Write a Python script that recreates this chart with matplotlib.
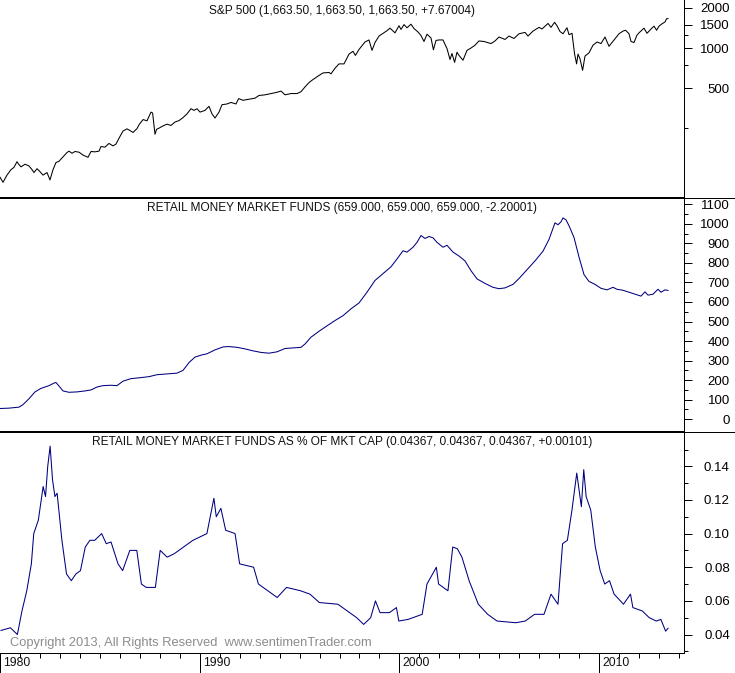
import numpy as np
import matplotlib
matplotlib.use("Agg")
import matplotlib.pyplot as plt
from matplotlib.lines import Line2D
from matplotlib.ticker import FixedLocator, NullFormatter, FuncFormatter

plt.rcParams['font.family'] = ['Liberation Sans', 'DejaVu Sans']

# S&P 500 (log scale panel)
sp_years = [1980.05, 1980.2, 1980.4, 1980.6, 1980.75, 1980.9, 1981.0, 1981.1, 1981.3, 1981.5,
            1981.65, 1981.75, 1981.9, 1982.0, 1982.2, 1982.4, 1982.55, 1982.7, 1982.85, 1983.0,
            1983.2, 1983.4, 1983.5, 1983.65, 1983.8, 1984.0, 1984.2, 1984.45, 1984.6, 1984.8,
            1985.0, 1985.1, 1985.3, 1985.5, 1985.7, 1985.85, 1986.0, 1986.2, 1986.4, 1986.55,
            1986.7, 1986.9, 1987.0, 1987.2, 1987.4, 1987.6, 1987.68, 1987.8, 1987.88, 1988.0,
            1988.2, 1988.4, 1988.6, 1988.8, 1989.0, 1989.2, 1989.4, 1989.6, 1989.75, 1989.9,
            1990.05, 1990.3, 1990.5, 1990.65, 1990.8, 1991.0, 1991.15, 1991.4, 1991.6, 1991.85,
            1991.98, 1992.2, 1992.4, 1992.6, 1992.8, 1993.0, 1993.3, 1993.6, 1993.9, 1994.1,
            1994.3, 1994.6, 1994.9, 1995.1, 1995.3, 1995.5, 1995.7, 1995.95, 1996.2, 1996.5,
            1996.6, 1996.8, 1997.0, 1997.25, 1997.5, 1997.7, 1997.82, 1998.0, 1998.3, 1998.5,
            1998.65, 1998.8, 1999.0, 1999.2, 1999.4, 1999.55, 1999.8, 2000.0, 2000.1, 2000.25,
            2000.4, 2000.6, 2000.75, 2000.95, 2001.1, 2001.25, 2001.4, 2001.6, 2001.72, 2001.85,
            2002.0, 2002.2, 2002.4, 2002.55, 2002.65, 2002.78, 2002.9, 2003.0, 2003.2, 2003.4,
            2003.6, 2003.8, 2004.0, 2004.25, 2004.6, 2004.8, 2005.0, 2005.3, 2005.5, 2005.75,
            2006.0, 2006.3, 2006.45, 2006.7, 2007.0, 2007.15, 2007.45, 2007.6, 2007.78, 2007.9,
            2008.05, 2008.2, 2008.4, 2008.5, 2008.65, 2008.78, 2008.88, 2008.95, 2009.05, 2009.18,
            2009.3, 2009.5, 2009.7, 2009.9, 2010.1, 2010.3, 2010.5, 2010.65, 2010.85, 2011.0,
            2011.2, 2011.33, 2011.5, 2011.6, 2011.75, 2011.9, 2012.0, 2012.25, 2012.4, 2012.6,
            2012.75, 2012.88, 2013.0, 2013.15, 2013.3, 2013.38, 2013.45]
sp_vals = [107, 98, 111, 122, 127, 140, 133, 128, 134, 130,
           122, 116, 124, 120, 111, 116, 102, 122, 138, 141,
           152, 164, 168, 162, 167, 165, 157, 151, 167, 166,
           168, 182, 180, 192, 184, 190, 210, 238, 247, 240,
           232, 248, 265, 290, 284, 330, 325, 225, 245, 250,
           260, 268, 262, 278, 285, 300, 320, 350, 340, 350,
           330, 340, 365, 320, 298, 330, 375, 380, 390, 380,
           417, 405, 410, 415, 420, 440, 445, 455, 465, 475,
           445, 455, 455, 470, 510, 550, 580, 615, 650, 655,
           640, 705, 760, 760, 900, 945, 880, 975, 1110, 1150,
           960, 1100, 1230, 1290, 1350, 1410, 1300, 1470, 1380, 1500,
           1420, 1510, 1400, 1320, 1240, 1120, 1270, 1190, 970, 1140,
           1150, 1150, 990, 820, 910, 780, 930, 880, 810, 960,
           1000, 1050, 1130, 1120, 1080, 1130, 1210, 1160, 1230, 1180,
           1280, 1310, 1230, 1340, 1430, 1390, 1530, 1430, 1560, 1470,
           1330, 1280, 1420, 1260, 1290, 900, 760, 900, 830, 680,
           870, 920, 1050, 1110, 1080, 1210, 1030, 1100, 1200, 1280,
           1340, 1360, 1280, 1120, 1100, 1250, 1300, 1410, 1290, 1390,
           1460, 1360, 1460, 1520, 1570, 1660, 1663.5]

# Retail money market funds ($bn)
mmf_years = [1980.05, 1980.5, 1981.0, 1981.2, 1981.5, 1981.8, 1982.1, 1982.5, 1982.75, 1982.85,
             1983.0, 1983.2, 1983.5, 1983.9, 1984.3, 1984.6, 1984.9, 1985.2, 1985.6, 1985.9,
             1986.2, 1986.6, 1987.0, 1987.5, 1987.9, 1988.4, 1988.9, 1989.2, 1989.5, 1989.8,
             1990.1, 1990.4, 1990.8, 1991.2, 1991.5, 1991.9, 1992.3, 1992.7, 1993.1, 1993.5,
             1993.9, 1994.3, 1994.7, 1995.1, 1995.3, 1995.6, 1996.0, 1996.4, 1996.8, 1997.2,
             1997.6, 1998.0, 1998.4, 1998.8, 1999.2, 1999.6, 1999.9, 2000.2, 2000.4, 2000.7,
             2000.9, 2001.1, 2001.3, 2001.5, 2001.7, 2001.9, 2002.2, 2002.4, 2002.7, 2003.0,
             2003.3, 2003.6, 2003.9, 2004.3, 2004.7, 2005.0, 2005.3, 2005.7, 2006.0, 2006.4,
             2006.8, 2007.2, 2007.5, 2007.8, 2007.95, 2008.1, 2008.2, 2008.35, 2008.5, 2008.75,
             2009.0, 2009.25, 2009.5, 2009.8, 2010.1, 2010.4, 2010.7, 2010.9, 2011.2, 2011.5,
             2011.8, 2012.1, 2012.3, 2012.45, 2012.7, 2012.95, 2013.1, 2013.3, 2013.45]
mmf_vals = [55, 57, 62, 75, 105, 140, 158, 172, 185, 188,
            170, 145, 138, 140, 145, 150, 165, 172, 174, 172,
            195, 208, 212, 218, 228, 232, 236, 250, 290, 318,
            328, 335, 355, 370, 372, 368, 360, 350, 342, 338,
            345, 362, 365, 368, 385, 420, 450, 478, 505, 530,
            565, 595, 650, 710, 745, 780, 820, 862, 855, 880,
            905, 940, 925, 935, 928, 905, 880, 890, 855, 835,
            810, 760, 718, 695, 675, 668, 672, 690, 720, 765,
            810, 860, 920, 1005, 995, 1010, 1030, 1020, 990, 930,
            830, 740, 705, 690, 670, 662, 675, 665, 660, 650,
            640, 630, 652, 635, 640, 665, 650, 662, 659]

# Retail money market funds as % of market cap
pct_years = [1980.05, 1980.52, 1980.87, 1981.1, 1981.34, 1981.57, 1981.69, 1981.92, 1982.16, 1982.28,
             1982.39, 1982.51, 1982.63, 1982.75, 1982.86, 1982.98, 1983.1, 1983.33, 1983.57, 1983.8,
             1984.03, 1984.27, 1984.5, 1984.74, 1985.09, 1985.32, 1985.56, 1985.91, 1986.14, 1986.5,
             1986.85, 1987.08, 1987.32, 1987.78, 1988.02, 1988.37, 1988.72, 1989.19, 1989.66, 1990.36,
             1990.71, 1990.83, 1991.06, 1991.3, 1991.77, 1992.0, 1992.7, 1992.94, 1993.41, 1993.88,
             1994.35, 1995.05, 1995.52, 1995.99, 1996.92, 1997.39, 1997.86, 1998.21, 1998.56, 1998.8,
             1999.03, 1999.5, 1999.85, 1999.97, 2000.44, 2001.14, 2001.38, 2001.85, 2001.96, 2002.43,
             2002.67, 2002.9, 2003.13, 2003.49, 2003.95, 2004.42, 2004.89, 2005.83, 2006.3, 2006.77,
             2007.24, 2007.59, 2007.94, 2008.17, 2008.41, 2008.64, 2008.88, 2009.11, 2009.23, 2009.35,
             2009.58, 2009.81, 2010.05, 2010.28, 2010.52, 2010.75, 2011.22, 2011.57, 2011.69, 2012.16,
             2012.51, 2012.86, 2013.09, 2013.33, 2013.45]
pct_vals = [0.0424, 0.044, 0.040, 0.054, 0.066, 0.082, 0.100, 0.108, 0.128, 0.122,
            0.140, 0.152, 0.132, 0.122, 0.124, 0.110, 0.096, 0.076, 0.072, 0.076,
            0.078, 0.092, 0.096, 0.096, 0.100, 0.094, 0.095, 0.082, 0.078, 0.090,
            0.090, 0.070, 0.068, 0.068, 0.090, 0.086, 0.088, 0.092, 0.096, 0.100,
            0.121, 0.110, 0.115, 0.102, 0.100, 0.082, 0.080, 0.070, 0.066, 0.062,
            0.068, 0.066, 0.064, 0.059, 0.058, 0.054, 0.050, 0.046, 0.050, 0.060,
            0.053, 0.053, 0.056, 0.048, 0.049, 0.052, 0.070, 0.080, 0.070, 0.066,
            0.092, 0.091, 0.086, 0.072, 0.058, 0.052, 0.048, 0.047, 0.048, 0.052,
            0.052, 0.064, 0.058, 0.094, 0.096, 0.114, 0.136, 0.116, 0.138, 0.122,
            0.114, 0.092, 0.078, 0.070, 0.072, 0.064, 0.058, 0.064, 0.056, 0.054,
            0.050, 0.048, 0.049, 0.042, 0.04367]

decades = [1980, 1990, 2000, 2010]
navy = '#000080'
W, H = 735.0, 673.0

fig = plt.figure(figsize=(7.35, 6.73), dpi=100)
right = 684 / W
ax1 = fig.add_axes([0, 1 - 197 / H, right, 197 / H])
ax2 = fig.add_axes([0, 1 - 431 / H, right, 234 / H])
ax3 = fig.add_axes([0, 1 - 653 / H, right, 222 / H])

ax1.plot(sp_years, sp_vals, color='black', lw=0.75)
ax2.plot(mmf_years, mmf_vals, color=navy, lw=0.75)
ax3.plot(pct_years, pct_vals, color=navy, lw=0.75)

ax1.set_yscale('log')
ax1.set_ylim(76, 2295)
ax1.yaxis.set_major_locator(FixedLocator([500, 1000, 1500, 2000]))
ax1.yaxis.set_minor_locator(FixedLocator([250, 750, 1250]))
ax1.yaxis.set_major_formatter(FuncFormatter(lambda v, p: '%d' % v))
ax1.yaxis.set_minor_formatter(NullFormatter())

ax2.set_ylim(-60, 1137)
ax2.yaxis.set_major_locator(FixedLocator(np.arange(0, 1101, 100)))
ax2.yaxis.set_minor_locator(FixedLocator(np.arange(50, 1151, 100)))
ax2.yaxis.set_major_formatter(FuncFormatter(lambda v, p: '%d' % v))

ax3.set_ylim(0.029, 0.161)
ax3.yaxis.set_major_locator(FixedLocator([0.04, 0.06, 0.08, 0.10, 0.12, 0.14]))
ax3.yaxis.set_minor_locator(FixedLocator([0.03, 0.05, 0.07, 0.09, 0.11, 0.13, 0.15]))
ax3.yaxis.set_major_formatter(FuncFormatter(lambda v, p: '%.2f' % v))

titles = ['S&P 500 (1,663.50, 1,663.50, 1,663.50, +7.67004)',
          'RETAIL MONEY MARKET FUNDS (659.000, 659.000, 659.000, -2.20001)',
          'RETAIL MONEY MARKET FUNDS AS % OF MKT CAP (0.04367, 0.04367, 0.04367, +0.00101)']

for ax, title in zip([ax1, ax2, ax3], titles):
    ax.set_xlim(1980.05, 2014.25)
    ax.patch.set_visible(False)
    ax.spines['left'].set_visible(False)
    ax.spines['top'].set_visible(False)
    ax.spines['right'].set_linewidth(0.72)
    ax.spines['bottom'].set_linewidth(0.72)
    ax.yaxis.tick_right()
    ax.tick_params(axis='y', which='major', direction='out', length=6, width=0.72, pad=27,
                   labelsize=9.5, colors='black')
    ax.tick_params(axis='y', which='minor', direction='out', length=3, width=0.72)
    for lab in ax.get_yticklabels():
        lab.set_ha('right')
    ax.set_xticks([])
    ax.text(0.5, 1 - 11 / (ax.get_position().height * H), title, transform=ax.transAxes,
            ha='center', va='center', fontsize=8.6, color='#111111')

# x axis on bottom panel
ax3.set_xticks(decades)
ax3.set_xticks(np.arange(1981, 2015), minor=True)
ax3.tick_params(axis='x', which='major', direction='out', length=14.4, width=0.72, labelbottom=False)
ax3.tick_params(axis='x', which='minor', direction='out', length=3.6, width=0.72)
for d in decades:
    ax3.text(d + 0.15, -10 / 222, str(d), transform=ax3.get_xaxis_transform(),
             ha='left', va='center', fontsize=8.8, color='#111111')

ax3.text(10 / 684, 10 / 222, 'Copyright 2013, All Rights Reserved  www.sentimenTrader.com',
         transform=ax3.transAxes, ha='left', va='center', fontsize=9.3, color='#8c8c8c')

# separators across the full width
for yy in [197.5, 431.5]:
    fig.add_artist(Line2D([0, 1], [1 - yy / H, 1 - yy / H], transform=fig.transFigure,
                          color='black', lw=0.72))

fig.savefig('out.png', dpi=100)
